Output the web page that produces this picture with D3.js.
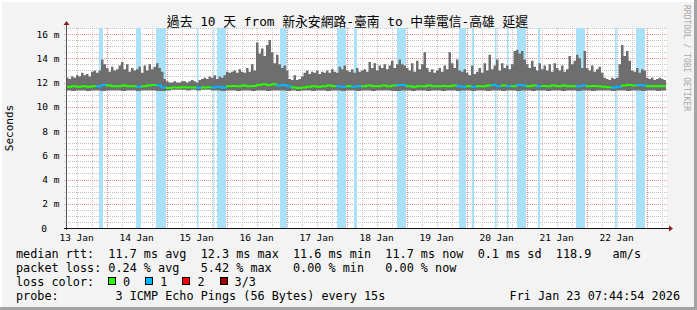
<!DOCTYPE html>
<html>
<head>
<meta charset="utf-8">
<script src="https://cdn.jsdelivr.net/npm/d3@7"></script>
<style>
  html, body { margin: 0; padding: 0; background: #f3f3f3; }
  svg { display: block; }
  text { font-family: "DejaVu Sans Mono", "Noto Sans CJK TC", monospace; }
</style>
</head>
<body>
<div id="chart"></div>
<script>
// graph ends at this moment, covers the 10 days before it
const endTime = new Date(2026, 0, 23, 7, 44, 54);
const spanDays = 10;

// hourly top of the smoke (ms), from graph start
const smokeTop = [
  12.4, 12.3, 12.5, 12.4, 12.6, 12.5, 12.8, 12.6, 12.7, 12.5,
  12.9, 13.0, 12.8, 13.0, 13.9, 13.5, 13.2, 12.9, 13.3, 13.0,
  13.1, 13.4, 13.7, 13.1, 13.5, 12.9, 13.2, 13.0, 13.1, 13.3,
  12.8, 13.4, 13.0, 13.5, 13.1, 13.3, 13.6, 13.2, 12.9, 12.3,
  12.1, 12.0, 12.0, 12.1, 12.0, 12.0, 12.1, 12.1, 12.0, 12.1,
  12.2, 12.1, 12.0, 12.2, 12.3, 12.4, 12.3, 12.5, 12.4, 12.6,
  12.3, 12.5, 12.4, 12.6, 12.9, 12.8, 12.9, 13.0, 12.8, 13.1,
  12.9, 12.8, 13.2, 12.9, 13.5, 13.0, 15.3, 14.4, 14.8, 14.2,
  15.1, 15.5, 14.5, 13.6, 14.3, 13.5, 13.2, 13.4, 13.0, 12.3,
  12.2, 12.6, 12.2, 12.3, 12.5, 12.8, 13.0, 12.7, 12.9, 12.8,
  13.0, 12.7, 12.9, 12.8, 13.0, 12.8, 13.1, 12.9, 12.8, 13.3,
  13.1, 13.4, 13.0, 12.9, 13.1, 12.8, 13.2, 12.9, 13.0, 13.1,
  12.9, 13.7, 13.2, 13.6, 13.0, 13.4, 13.2, 13.5, 13.1, 13.4,
  13.8, 13.2, 13.5, 13.9, 13.5, 13.4, 13.2, 13.0, 13.6, 12.9,
  13.8, 13.1, 13.5, 14.5, 13.2, 12.9, 13.1, 12.8, 13.0, 13.2,
  12.9, 13.4, 13.1, 14.5, 13.6, 13.2, 13.9, 13.0, 12.9, 13.1,
  12.8, 12.6, 13.4, 12.7, 12.9, 13.2, 12.8, 13.6, 13.0, 14.3,
  13.1, 13.4, 13.9, 13.0, 13.6, 13.2, 13.4, 13.1, 13.5, 14.6,
  14.7, 14.4, 14.6, 13.9, 13.5, 13.2, 13.8, 13.3, 13.0, 13.6,
  13.1, 13.4, 13.0, 13.5, 12.9, 13.6, 13.2, 13.0, 13.4, 12.9,
  13.1, 14.2, 13.5, 13.8, 14.3, 14.0, 13.2, 14.6, 13.2, 13.0,
  13.4, 12.9, 13.1, 13.3, 12.8, 12.4, 12.3, 12.2, 12.4, 12.3,
  12.4, 13.5, 15.1, 14.2, 14.6, 13.8, 13.0, 12.9, 13.2, 12.8,
  13.1, 13.0, 12.4, 12.3, 12.4, 12.2, 12.3, 12.4, 12.3, 12.2
];

// 2-hourly bottom of the smoke (ms)
const smokeLow = [
  11.35, 11.3, 11.35, 11.35, 11.3, 11.35, 11.35, 11.3, 11.35, 11.35,
  11.35, 11.3, 11.35, 11.35, 11.3, 11.35, 11.35, 11.35, 11.3, 11.3,
  11.35, 11.4, 11.4, 11.4, 11.35, 11.4, 11.35, 11.4, 11.4, 11.35,
  11.35, 11.3, 11.35, 11.35, 11.3, 11.35, 11.35, 11.3, 11.35, 11.35,
  11.3, 11.35, 11.35, 11.35, 11.3, 11.35, 11.3, 11.35, 11.35, 11.3,
  11.35, 11.35, 11.3, 11.35, 11.35, 11.3, 11.35, 11.35, 11.3, 11.35,
  11.35, 11.3, 11.35, 11.35, 11.35, 11.3, 11.3, 11.35, 11.35, 11.3,
  11.35, 11.35, 11.3, 11.35, 11.35, 11.3, 11.35, 11.35, 11.3, 11.35,
  11.35, 11.3, 11.35, 11.35, 11.3, 11.35, 11.35, 11.3, 11.35, 11.35,
  11.3, 11.35, 11.35, 11.3, 11.35, 11.35, 11.3, 11.35, 11.35, 11.3,
  11.35, 11.35, 11.3, 11.35, 11.35, 11.3, 11.35, 11.35, 11.35, 11.3,
  11.35, 11.35, 11.3, 11.35, 11.35, 11.3, 11.35, 11.35, 11.3, 11.35
];

// 2-hourly median rtt (ms)
const medianRtt = [
  11.65, 11.7, 11.65, 11.7, 11.65, 11.7, 11.7, 11.8, 11.75, 11.7,
  11.7, 11.75, 11.7, 11.7, 11.65, 11.7, 11.75, 11.8, 11.75, 11.6,
  11.55, 11.6, 11.6, 11.62, 11.6, 11.6, 11.58, 11.6, 11.62, 11.6,
  11.65, 11.6, 11.7, 11.72, 11.7, 11.75, 11.7, 11.72, 11.8, 11.85,
  11.8, 11.85, 11.75, 11.8, 11.7, 11.6, 11.55, 11.6, 11.65, 11.7,
  11.65, 11.7, 11.75, 11.7, 11.7, 11.65, 11.7, 11.65, 11.7, 11.7,
  11.75, 11.7, 11.7, 11.75, 11.7, 11.75, 11.8, 11.8, 11.7, 11.65,
  11.7, 11.7, 11.75, 11.7, 11.7, 11.72, 11.7, 11.75, 11.7, 11.65,
  11.7, 11.65, 11.7, 11.7, 11.75, 11.8, 11.7, 11.75, 11.7, 11.7,
  11.8, 11.75, 11.7, 11.75, 11.7, 11.72, 11.7, 11.75, 11.7, 11.75,
  11.7, 11.7, 11.7, 11.75, 11.7, 11.72, 11.7, 11.65, 11.62, 11.6,
  11.65, 11.75, 11.8, 11.75, 11.8, 11.75, 11.7, 11.7, 11.7, 11.7
];

// periods with 1 of 3 pings lost, [from hour, to hour] after graph start
const lossBands = [
  [13.2, 14.8], [28, 30], [36, 40], [52.4, 53], [58.9, 59.3], [60.4, 64],
  [85.6, 88.4], [108.4, 112], [115.2, 116.4], [132.4, 136], [157.2, 160],
  [162.3, 163.2], [171.6, 172.2], [176.4, 177], [180.4, 184], [188.8, 189.6],
  [204, 207.6], [219.6, 220.3], [228, 231.6]
];

const yTicks = [0, 2, 4, 6, 8, 10, 12, 14, 16];
const lossLabels = ["0", "1", "2", "3/3"];
const lossColors = ["#26ff00", "#00b8ff", "#ff0000", "#a00000"];

const legendLines = [
  "median rtt:  11.7 ms avg  12.3 ms max  11.6 ms min  11.7 ms now  0.1 ms sd  118.9   am/s",
  "packet loss: 0.24 % avg   5.42 % max   0.00 % min   0.00 % now"
];
const probeText = "probe:        3 ICMP Echo Pings (56 Bytes) every 15s";
const stampText = "Fri Jan 23 07:44:54 2026";
const titleText = "過去 10 天 from 新永安網路-臺南 to 中華電信-高雄 延遲";

const width = 697, height = 310;
const plotL = 66, plotR = 666, plotT = 28, plotB = 228;
const HOUR = 3600e3;
const startTime = new Date(endTime - spanDays * 24 * HOUR);
const at = h => new Date(+startTime + h * HOUR);

const x = d3.scaleTime().domain([startTime, endTime]).range([plotL, plotR]);
const y = d3.scaleLinear().domain([0, 16.5]).range([plotB, plotT]);

const svg = d3.select("#chart").append("svg")
    .attr("width", width)
    .attr("height", height);

// frame
svg.append("rect").attr("width", width).attr("height", height).attr("fill", "#f3f3f3");
svg.append("rect").attr("x", 0).attr("y", 0).attr("width", width).attr("height", 2).attr("fill", "#fff");
svg.append("rect").attr("x", 0).attr("y", 0).attr("width", 2).attr("height", height).attr("fill", "#fff");
svg.append("rect").attr("x", 0).attr("y", height - 3).attr("width", width).attr("height", 3).attr("fill", "#a3a3a3");
svg.append("rect").attr("x", width - 3).attr("y", 0).attr("width", 3).attr("height", height).attr("fill", "#a3a3a3");

// canvas
svg.append("rect")
    .attr("x", plotL).attr("y", plotT)
    .attr("width", plotR - plotL + 1).attr("height", plotB - plotT)
    .attr("fill", "#fff");

// grid
const grid = svg.append("g").attr("shape-rendering", "crispEdges");
const minorY = d3.range(0.5, 16.51, 0.5).filter(v => v % 2 !== 0);
grid.selectAll(".hmin").data(minorY).enter().append("line")
    .attr("x1", plotL - 2).attr("x2", plotR + 1)
    .attr("y1", d => Math.round(y(d)) + 0.5).attr("y2", d => Math.round(y(d)) + 0.5)
    .attr("stroke", "#c4c4c4").attr("stroke-dasharray", "1,1");
const minorX = d3.timeHour.every(6).range(startTime, endTime)
    .filter(d => d.getHours() !== 0);
grid.selectAll(".vmin").data(minorX).enter().append("line")
    .attr("x1", d => Math.round(x(d)) + 0.5).attr("x2", d => Math.round(x(d)) + 0.5)
    .attr("y1", plotT).attr("y2", plotB + 2)
    .attr("stroke", "#c4c4c4").attr("stroke-dasharray", "1,1");
grid.selectAll(".hmaj").data(yTicks.filter(v => v > 0)).enter().append("line")
    .attr("x1", plotL - 2).attr("x2", plotR + 1)
    .attr("y1", d => Math.round(y(d)) + 0.5).attr("y2", d => Math.round(y(d)) + 0.5)
    .attr("stroke", "#f08c8c").attr("stroke-dasharray", "1,1");
const days = d3.timeDay.range(startTime, endTime);
grid.selectAll(".vmaj").data(days).enter().append("line")
    .attr("x1", d => Math.round(x(d)) + 0.5).attr("x2", d => Math.round(x(d)) + 0.5)
    .attr("y1", plotT).attr("y2", plotB + 2)
    .attr("stroke", "#f08c8c").attr("stroke-dasharray", "1,1");

// loss background bands
svg.append("g").selectAll("rect")
    .data(lossBands).enter().append("rect")
    .attr("x", d => x(at(d[0])))
    .attr("y", plotT)
    .attr("width", d => Math.max(1, x(at(d[1])) - x(at(d[0]))))
    .attr("height", plotB - plotT)
    .attr("fill", "#a9e2f8");

// smoke
const smoke = smokeTop.map((v, i) => ({ t: at(i), hi: v, lo: smokeLow[Math.floor(i / 2)] }));
smoke.push({ t: endTime, hi: smokeTop[smokeTop.length - 1], lo: smokeLow[smokeLow.length - 1] });
svg.append("path")
    .datum(smoke)
    .attr("fill", "#6e6e6e")
    .attr("d", d3.area().curve(d3.curveStepAfter)
        .x(d => x(d.t)).y0(d => y(d.lo)).y1(d => y(d.hi)));

// median line, coloured by loss
const lossAt = (h0, h1) => lossBands.some(b => b[0] < h1 && b[1] > h0) ? 1 : 0;
const med = svg.append("g").attr("fill", "none").attr("stroke-width", 2);
medianRtt.forEach((v, j) => {
    const next = j + 1 < medianRtt.length ? medianRtt[j + 1] : v;
    const x0 = x(at(j * 2)), x1 = x(at(j * 2 + 2));
    med.append("path")
        .attr("stroke", lossColors[lossAt(j * 2, j * 2 + 2)])
        .attr("d", `M${x0},${y(v)}H${x1}V${y(next)}`);
});

// axes
const axes = svg.append("g").attr("shape-rendering", "crispEdges");
axes.append("line").attr("x1", plotL + 0.5).attr("x2", plotL + 0.5)
    .attr("y1", plotB + 2).attr("y2", plotT - 4).attr("stroke", "#555");
axes.append("line").attr("x1", plotL - 2).attr("x2", plotR + 5)
    .attr("y1", plotB + 0.5).attr("y2", plotB + 0.5).attr("stroke", "#111");
svg.append("path").attr("fill", "#8b1c1c")
    .attr("d", `M${plotL - 2.5},${plotT - 3}L${plotL + 0.5},${plotT - 7}L${plotL + 3.5},${plotT - 3}Z`);
svg.append("path").attr("fill", "#8b1c1c")
    .attr("d", `M${plotR + 3},${plotB - 2.5}L${plotR + 7},${plotB + 0.5}L${plotR + 3},${plotB + 3.5}Z`);

// y labels
svg.append("g").selectAll("text")
    .data(yTicks).enter().append("text")
    .attr("x", d => d === 0 ? 47 : 59.5)
    .attr("y", d => y(d) + 3.5)
    .attr("text-anchor", "end")
    .attr("font-size", "9.5px")
    .text(d => d === 0 ? "0" : d + " m");

// x labels at noon
const noons = days.map(d => d3.timeHour.offset(d, -12)).concat([d3.timeHour.offset(days[days.length - 1], 12)])
    .filter(d => d >= startTime && d <= endTime);
svg.append("g").selectAll("text")
    .data(noons).enter().append("text")
    .attr("x", d => x(d))
    .attr("y", 241)
    .attr("text-anchor", "middle")
    .attr("font-size", "9.5px")
    .text(d3.timeFormat("%d %b"));

// title & side texts
svg.append("text")
    .attr("x", 347.5).attr("y", 26)
    .attr("text-anchor", "middle")
    .attr("font-size", "12.8px")
    .text(titleText);
svg.append("text")
    .attr("transform", "translate(13,128) rotate(-90)")
    .attr("text-anchor", "middle")
    .attr("font-size", "11px")
    .text("Seconds");
svg.append("text")
    .attr("transform", "translate(684,5) rotate(90)")
    .attr("font-size", "8px")
    .attr("fill", "#a8a8a8")
    .text("RRDTOOL / TOBI OETIKER");

// legend
const nb = s => s.replace(/ /g, "\u00a0");
const legend = svg.append("g").attr("font-size", "11.8px");
legendLines.forEach((s, i) => {
    legend.append("text").attr("x", 16).attr("y", 258 + i * 14).text(nb(s));
});
legend.append("text").attr("x", 16).attr("y", 286).text(nb("loss color:"));
lossLabels.forEach((s, i) => {
    const sx = 108.5 + i * 37.2;
    legend.append("rect").attr("x", sx).attr("y", 277.5).attr("width", 7).attr("height", 7)
        .attr("fill", lossColors[i]).attr("stroke", "#000").attr("shape-rendering", "crispEdges");
    legend.append("text").attr("x", sx + 14.5).attr("y", 286).text(s);
});
legend.append("text").attr("x", 16).attr("y", 300).text(nb(probeText));
legend.append("text").attr("x", 680).attr("y", 300).attr("text-anchor", "end").text(stampText);
</script>
</body>
</html>
